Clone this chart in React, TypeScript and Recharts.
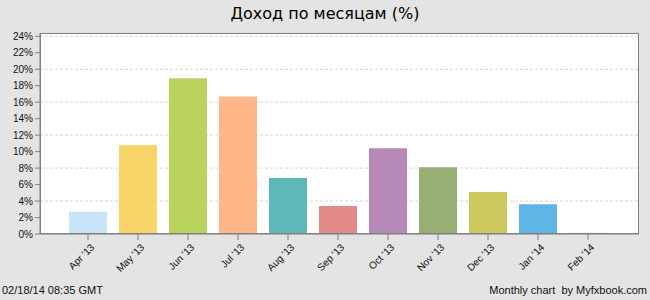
import { BarChart, Bar, XAxis, YAxis, CartesianGrid, Cell } from "recharts";

const MONTHS = ["Apr '13", "May '13", "Jun '13", "Jul '13", "Aug '13", "Sep '13", "Oct '13", "Nov '13", "Dec '13", "Jan '14", "Feb '14"];
const GAIN = [2.7, 10.8, 18.9, 16.7, 6.8, 3.4, 10.4, 8.1, 5.1, 3.6, 0.15];
const COLORS = ["#c9e3f6", "#f8d568", "#b9d35e", "#ffb78a", "#5eb8b8", "#e58a8a", "#b789b7", "#97af74", "#cec95e", "#5db6e3", "#eccfd8"];
const Y_TICKS = [0, 2, 4, 6, 8, 10, 12, 14, 16, 18, 20, 22, 24];

const data = MONTHS.map((m, i) => ({ month: m, gain: GAIN[i] }));

const FONT = "Liberation Sans, DejaVu Sans, sans-serif";

function MonthTick({ x, y, payload }: any) {
  return (
    <text
      x={x + 7}
      y={y + 6}
      transform={`rotate(-45, ${x + 7}, ${y + 6})`}
      textAnchor="end"
      fontSize={10}
      fontFamily={FONT}
      fill="#111"
    >
      {payload.value}
    </text>
  );
}

export default function App() {
  return (
    <div style={{ position: "fixed", left: 0, top: 0, width: 650, height: 300, background: "#e4e4e4", fontFamily: FONT }}>
      <div style={{ position: "absolute", top: 4, left: 0, width: 650, textAlign: "center", fontSize: 16, fontFamily: "DejaVu Sans, sans-serif", color: "#000" }}>
        Доход по месяцам (%)
      </div>
      <BarChart width={650} height={300} data={data} margin={{ top: 33, right: 11, left: 0, bottom: 0 }}>
        <CartesianGrid horizontal vertical={false} fill="#fff" stroke="#d6d6d6" strokeDasharray="3 2" />
        <XAxis
          dataKey="month"
          height={66}
          interval={0}
          padding={{ left: 23, right: 26 }}
          tick={<MonthTick />}
          tickSize={6}
          axisLine={{ stroke: "#808080" }}
          tickLine={{ stroke: "#808080" }}
        />
        <YAxis
          width={40}
          domain={[0, 24.4]}
          ticks={Y_TICKS}
          tickFormatter={(v) => `${v}%`}
          tick={{ fontSize: 10, fill: "#111", fontFamily: FONT }}
          tickSize={5}
          tickMargin={2}
          axisLine={{ stroke: "#808080" }}
          tickLine={{ stroke: "#808080" }}
        />
        <Bar dataKey="gain" barSize={38} isAnimationActive={false}>
          {data.map((d, i) => (
            <Cell key={d.month} fill={COLORS[i]} />
          ))}
        </Bar>
      </BarChart>
      <div style={{ position: "absolute", left: 40, top: 33, width: 599, height: 201, border: "1px solid #808080", boxSizing: "border-box", pointerEvents: "none" }} />
      <div style={{ position: "absolute", left: 2, top: 284, fontSize: 11, color: "#111" }}>02/18/14 08:35 GMT</div>
      <div style={{ position: "absolute", right: 3, top: 284, fontSize: 11, color: "#111", whiteSpace: "pre" }}>Monthly chart  by Myfxbook.com</div>
    </div>
  );
}
